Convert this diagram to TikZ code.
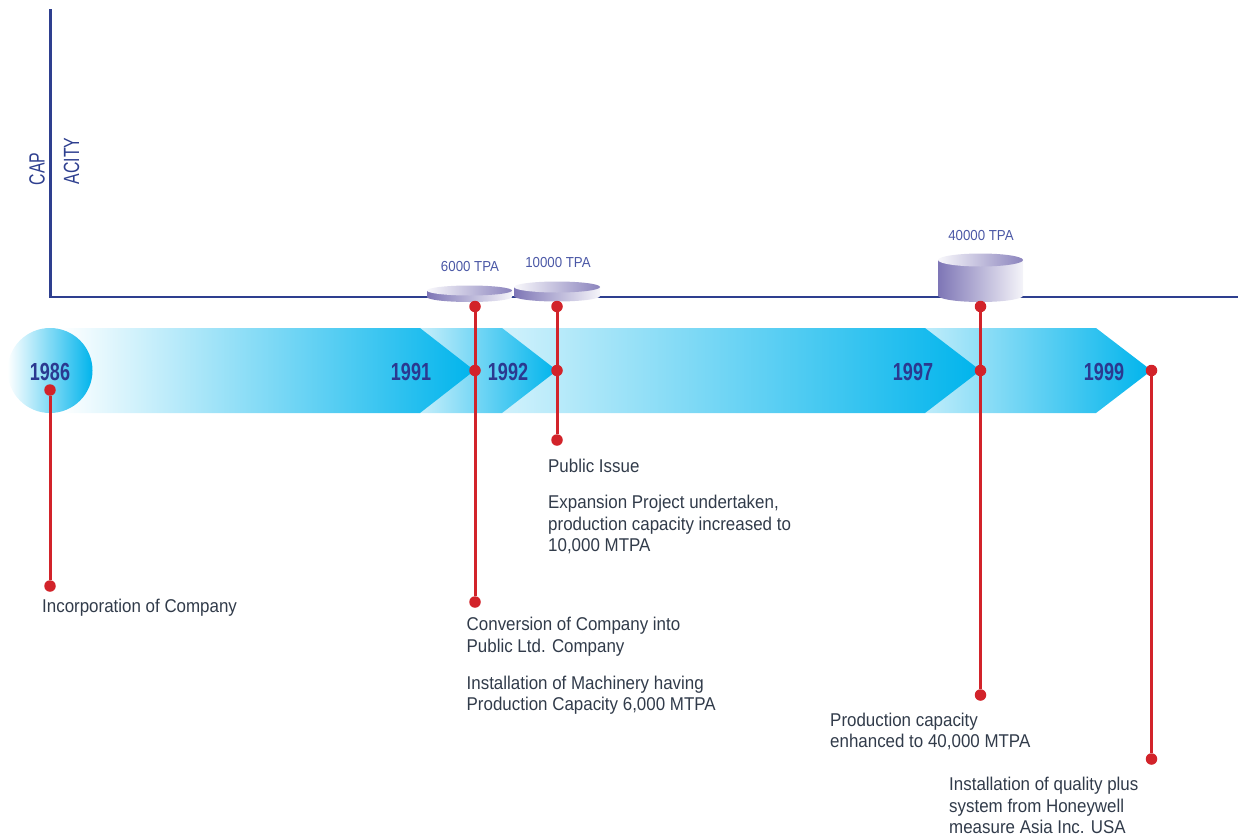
\documentclass[tikz,border=0pt]{standalone}
\usepackage{fontspec}
\setmainfont{Liberation Sans}
\newfontfamily\bodyfont{Liberation Sans}[FakeStretch=0.915]
\newfontfamily\yearfont{Liberation Sans}[FakeStretch=0.73]
\newfontfamily\capfont{Liberation Sans}[FakeStretch=0.72]
\definecolor{axisblue}{HTML}{2E3F8F}
\definecolor{yearblue}{HTML}{2B3990}
\definecolor{tpablue}{HTML}{4B58A6}
\definecolor{cyanA}{HTML}{00B4EC}
\definecolor{redC}{HTML}{D2232A}
\definecolor{txt}{HTML}{313B4A}
\definecolor{lav}{HTML}{7E76B6}
\newcommand\tpadisk[5]{%
  \shade[left color=lav, right color=white!92!lav] (#1-#4,#2) -- (#1-#4,#3)
     arc[start angle=180,end angle=360,x radius=#4pt,y radius=#5pt] -- (#1+#4,#2) -- cycle;
  \shade[left color=white!95!lav, right color=lav!90] (#1,#2) ellipse [x radius=#4pt, y radius=#5pt];
}
\tikzset{
  axisline/.style={draw=axisblue, line width=2.6pt},
  dot/.style={circle, fill=redC, inner sep=0pt, minimum size=11.5pt},
  redline/.style={draw=redC, line width=3pt},
  year/.style={font=\yearfont\bfseries\fontsize{24.7}{26}\selectfont, text=yearblue, inner sep=0pt},
  tpa/.style={font=\bodyfont\fontsize{14.5}{15}\selectfont, text=tpablue, inner sep=0pt},
  captext/.style={font=\capfont\fontsize{22}{23}\selectfont, text=axisblue, inner sep=0pt, rotate=90},
  note/.style={font=\bodyfont\fontsize{18.5}{21.4}\selectfont, text=txt, inner sep=0pt, anchor=north west, align=left},
}
\begin{document}
\begin{tikzpicture}[x=1pt,y=-1pt]
\useasboundingbox (0,0) rectangle (1238,835);
% axes
\coordinate (ytop) at (50.5,9);
\coordinate (orig) at (50.5,297);
\coordinate (xend) at (1238,297);
\draw[axisline] (ytop) -- (orig) -- (xend);
\node[captext] (cap1) at (37,169) {CAP};
\node[captext] (cap2) at (71.5,161) {ACITY};
% disks
\tpadisk{469.5}{290.5}{297}{42.5}{5}
\tpadisk{557}{287}{296}{43}{5.5}
\tpadisk{980.5}{260}{295.5}{42.5}{6.5}
\node[tpa] (tpa1) at (470,267) {6000 TPA};
\node[tpa] (tpa2) at (558,263) {10000 TPA};
\node[tpa] (tpa3) at (981,236) {40000 TPA};
% band segments
\shade[left color=white!75!cyanA, middle color=white!50!cyanA, right color=cyanA]
  (925,328) -- (1096,328) -- (1151.5,370.5) -- (1096,413) -- (925,413) -- cycle;
\shade[left color=white!82!cyanA, middle color=white!60!cyanA, right color=cyanA]
  (502,328) -- (925,328) -- (980.5,370.5) -- (925,413) -- (502,413) -- cycle;
\shade[left color=white!78!cyanA, middle color=white!45!cyanA, right color=cyanA]
  (420,328) -- (502,328) -- (557,370.5) -- (502,413) -- (420,413) -- cycle;
\shade[left color=white, middle color=white!62!cyanA, right color=cyanA]
  (60,328) -- (420,328) -- (474.5,370.5) -- (420,413) -- (60,413) -- cycle;
\shade[left color=white, middle color=white!50!cyanA, right color=cyanA] (50,370.5) circle [radius=42.5pt];
% years
\node[year] (y86) at (50,372) {1986};
\node[year] (y91) at (411,372) {1991};
\node[year] (y92) at (508,372) {1992};
\node[year] (y97) at (913,372) {1997};
\node[year] (y99) at (1104,372) {1999};
% dots
\node[dot] (a86) at (50,390) {};
\node[dot] (b86) at (50,586) {};
\node[dot] (t91) at (475,306.5) {};
\node[dot] (m91) at (475,370.5) {};
\node[dot] (b91) at (475,602) {};
\node[dot] (t92) at (557,306.5) {};
\node[dot] (m92) at (557,370.5) {};
\node[dot] (b92) at (557,440) {};
\node[dot] (t97) at (980.5,306.5) {};
\node[dot] (m97) at (980.5,370.5) {};
\node[dot] (b97) at (980.5,695) {};
\node[dot] (m99) at (1151.5,370.5) {};
\node[dot] (b99) at (1151.5,759) {};
\draw[redline] (a86) -- (b86);
\draw[redline] (t91) -- (m91) -- (b91);
\draw[redline] (t92) -- (m92) -- (b92);
\draw[redline] (t97) -- (m97) -- (b97);
\draw[redline] (m99) -- (b99);
% notes
\node[note] (n86) at (42,599) {Incorporation of Company};
\node[note] (n91a) at (466.5,617) {Conversion of Company into\\Public Ltd. Company};
\node[note] (n91b) at (466.5,675.5) {Installation of Machinery having\\Production Capacity 6,000 MTPA};
\node[note] (n92a) at (548,459) {Public Issue};
\node[note] (n92b) at (548,495) {Expansion Project undertaken,\\production capacity increased to\\10,000 MTPA};
\node[note] (n97) at (830,712.5) {Production capacity\\enhanced to 40,000 MTPA};
\node[note] (n99) at (949,777) {Installation of quality plus\\system from Honeywell\\measure Asia Inc. USA};
\end{tikzpicture}
\end{document}
